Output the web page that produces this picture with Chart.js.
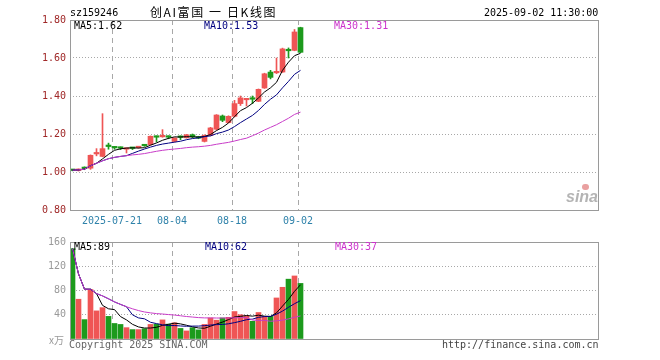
<!DOCTYPE html>
<html>
<head>
<meta charset="utf-8">
<script src="https://cdn.jsdelivr.net/npm/chart.js@4.4.1/dist/chart.umd.min.js"></script>
<style>
  body { margin: 0; background: #fff; }
  #wrap { position: relative; width: 660px; height: 360px; overflow: hidden; font-family: 'DejaVu Sans Mono', monospace; font-size: 10px; }
  canvas { position: absolute; left: 0; }
  .t { position: absolute; white-space: nowrap; line-height: 12px; }
</style>
</head>
<body>
<div id="wrap">
  <canvas id="priceChart" width="660" height="232" style="top:0"></canvas>
  <canvas id="volChart" width="660" height="128" style="top:232px"></canvas>

  <div class="t" style="left:70px;top:7px;color:#000">sz159246</div>
  <div class="t" style="left:150px;top:5px;font-family:'Noto Sans CJK SC';font-size:12px;line-height:14px;letter-spacing:1.6px;color:#000">创AI富国 一 日K线图</div>
  <div class="t" style="left:484px;top:7px;color:#000">2025-09-02 11:30:00</div>

  <div class="t" style="left:74px;top:20px;color:#000">MA5:1.62</div>
  <div class="t" style="left:204px;top:20px;color:#000080">MA10:1.53</div>
  <div class="t" style="left:334px;top:20px;color:#cc33cc">MA30:1.31</div>

  <div class="t" style="left:74px;top:241px;color:#000">MA5:89</div>
  <div class="t" style="left:205px;top:241px;color:#000080">MA10:62</div>
  <div class="t" style="left:335px;top:241px;color:#cc33cc">MA30:37</div>

  <div class="t" style="left:49px;top:334px;color:#999;font-family:'Noto Sans CJK SC';">x万</div>
  <div class="t" style="left:69px;top:339px;color:#666">Copyright 2025 SINA.COM</div>
  <div class="t" style="left:442px;top:339px;color:#444">http://finance.sina.com.cn</div>

  <div class="t" style="left:566px;top:188px;font-family:'Liberation Sans';font-style:italic;font-weight:bold;font-size:16px;line-height:18px;color:#b4b4b4">sina</div>
  <div style="position:absolute;left:582px;top:184px;width:7px;height:6px;border-radius:4px;background:#e9a0a0"></div>
</div>

<script>
// Trading days
const dates = ['07-10','07-11','07-14','07-15','07-16','07-17','07-18','07-21','07-22','07-23',
  '07-24','07-25','07-28','07-29','07-30','07-31','08-01','08-04','08-05','08-06',
  '08-07','08-08','08-11','08-12','08-13','08-14','08-15','08-18','08-19','08-20',
  '08-21','08-22','08-25','08-26','08-27','08-28','08-29','09-01','09-02'];
const tickDates = ['07-21', '08-04', '08-18', '09-02'];
const tickText = ['2025-07-21', '08-04', '08-18', '09-02'];

// Daily K data
const opens = [1.012,1.008,1.024,1.020,1.095,1.082,1.138,1.130,1.128,1.120,
  1.127,1.128,1.142,1.144,1.186,1.185,1.186,1.161,1.186,1.180,
  1.196,1.184,1.161,1.193,1.225,1.295,1.260,1.293,1.360,1.380,
  1.388,1.372,1.442,1.526,1.522,1.526,1.645,1.640,1.760];
const highs = [1.014,1.016,1.027,1.090,1.123,1.307,1.152,1.135,1.132,1.125,
  1.130,1.135,1.145,1.190,1.190,1.223,1.190,1.180,1.190,1.198,
  1.200,1.188,1.196,1.235,1.302,1.300,1.296,1.377,1.400,1.385,
  1.400,1.437,1.520,1.535,1.600,1.652,1.653,1.750,1.762];
const lows = [1.006,1.005,1.012,1.014,1.085,1.080,1.120,1.120,1.118,1.100,
  1.118,1.125,1.135,1.142,1.158,1.183,1.175,1.158,1.170,1.178,
  1.180,1.175,1.158,1.190,1.222,1.265,1.258,1.290,1.350,1.347,
  1.360,1.370,1.440,1.490,1.518,1.524,1.600,1.638,1.628];
const closes = [1.008,1.012,1.018,1.088,1.100,1.123,1.134,1.127,1.125,1.123,
  1.124,1.132,1.138,1.188,1.183,1.192,1.183,1.179,1.182,1.196,
  1.185,1.178,1.193,1.232,1.300,1.272,1.293,1.360,1.390,1.382,
  1.383,1.435,1.517,1.498,1.527,1.648,1.638,1.737,1.630];

// Price moving averages
const ma5 = [1.01,1.011,1.015,1.033,1.046,1.069,1.093,1.114,1.122,1.126,
  1.127,1.126,1.128,1.141,1.153,1.167,1.177,1.185,1.184,1.186,
  1.185,1.184,1.187,1.197,1.218,1.235,1.258,1.291,1.323,1.339,
  1.362,1.39,1.421,1.443,1.472,1.535,1.578,1.612,1.625];
const ma10 = [1.01,1.011,1.015,1.033,1.046,1.059,1.07,1.077,1.082,1.086,
  1.098,1.11,1.121,1.131,1.14,1.147,1.152,1.157,1.162,1.17,
  1.176,1.18,1.186,1.19,1.202,1.21,1.221,1.239,1.26,1.279,
  1.298,1.324,1.356,1.383,1.406,1.443,1.477,1.514,1.535];
const ma30 = [1.01,1.011,1.015,1.033,1.046,1.059,1.07,1.077,1.082,1.086,
  1.09,1.093,1.097,1.103,1.109,1.114,1.118,1.121,1.124,1.128,
  1.131,1.133,1.136,1.14,1.146,1.151,1.156,1.163,1.171,1.178,
  1.191,1.205,1.221,1.235,1.249,1.266,1.283,1.303,1.315];

// Volume (10k) and its moving averages
const volumes = [149,65.6,32,81.6,46.4,51.7,37.3,25.6,24,18.7,
  15.5,15.5,17,24,24.5,31.5,24.5,26.7,17.4,13.3,
  18.7,15,24,34.7,31,34.7,35.7,45.3,40,38.4,
  29.3,43.7,37.3,37.3,67.7,85.3,98.7,104,91.7];
const volMa5 = [149,107.3,82.2,82.1,74.9,55.5,49.8,48.5,37,31.5,
  24.2,19.9,18.1,18.1,19.3,22.5,24.3,26.2,24.9,22.7,
  20.1,18.2,17.7,21.1,24.7,27.9,32,36.3,37.3,38.8,
  37.7,39.3,37.7,37.2,43.1,54.3,65.3,78.6,89.5];
const volMa10 = [149,107.3,82.2,82.1,74.9,71.1,66.3,61.2,57.1,53.2,
  39.8,34.8,33.3,27.6,25.4,23.4,22.1,22.2,21.5,21,
  21.3,21.3,22,23,23.7,24,25.1,27,29.2,31.8,
  32.8,35.7,37,37.3,40.9,46,52.3,58.2,63.3];
const volMa30 = [149,107.3,82.2,82.1,74.9,71.1,66.3,61.2,57.1,53.2,
  49.8,46.9,44.6,43.1,41.9,41.2,40.3,39.5,38.3,37.1,
  36.2,35.3,34.8,34.8,34.6,34.6,34.7,35,35.2,35.3,
  31.3,30.6,30.8,29.3,30,31.1,33.2,35.8,38];

const RED = '#ef5555';
const GREEN = '#1c9a1c';
const colors = closes.map((c, i) => c >= opens[i] ? RED : GREEN);
const MONO = { family: "'DejaVu Sans Mono', monospace", size: 10 };

Chart.defaults.font.family = MONO.family;

// 88 slots of 6px across the plot, candle centres at .5 px
const X_MIN = -2.5 / 6;
const X_MAX = 88 - 2.5 / 6;

function xAxis(showLabels) {
    return {
        type: 'linear',
        min: X_MIN,
        max: X_MAX,
        offset: false,
        afterBuildTicks: s => {
            s.ticks = tickDates.map(d => ({ value: dates.indexOf(d) + X_MIN }));
        },
        afterFit: s => { s.height = showLabels ? 22 : 0; },
        grid: { color: '#a8a8a8', drawTicks: false, offset: false },
        border: { display: false, dash: [5, 4] },
        ticks: {
            display: showLabels,
            autoSkip: false,
            maxRotation: 0,
            padding: 5,
            color: '#2f82aa',
            font: MONO,
            callback: (v, i) => tickText[i]
        }
    };
}

const points = arr => arr.map((v, i) => ({ x: i, y: v }));

function maLine(arr, color, order) {
    return {
        type: 'line',
        data: points(arr),
        borderColor: color,
        borderWidth: 1,
        pointRadius: 0,
        tension: 0,
        order: order
    };
}

// Frame around the plot area
const framePlugin = {
    id: 'frame',
    afterDraw(chart) {
        const a = chart.chartArea;
        const ctx = chart.ctx;
        ctx.save();
        ctx.strokeStyle = '#9a9a9a';
        ctx.lineWidth = 1;
        ctx.strokeRect(a.left + 0.5, a.top + 0.5, a.right - a.left, a.bottom - a.top);
        ctx.restore();
    }
};

const priceChart = new Chart(document.getElementById('priceChart'), {
    type: 'bar',
    data: {
        datasets: [
            maLine(ma30, '#c83cc8', 0),
            maLine(ma10, '#000080', 1),
            maLine(ma5, '#000000', 2),
            {
                data: opens.map((o, i) => ({ x: i, y: [o, closes[i]] })),
                backgroundColor: colors,
                barThickness: 5,
                minBarLength: 1.5,
                grouped: false,
                order: 3
            },
            {
                data: lows.map((l, i) => ({ x: i, y: [l, highs[i]] })),
                backgroundColor: colors,
                barThickness: 1,
                grouped: false,
                order: 4
            }
        ]
    },
    options: {
        responsive: false,
        animation: false,
        events: [],
        layout: { padding: { top: 20, right: 62, bottom: 0, left: 0 } },
        plugins: { legend: { display: false }, tooltip: { enabled: false } },
        scales: {
            x: xAxis(true),
            y: {
                min: 0.8,
                max: 1.8,
                afterFit: s => { s.width = 70; },
                grid: { color: '#a8a8a8', drawTicks: false },
                border: { display: false, dash: [1, 2] },
                ticks: {
                    stepSize: 0.2,
                    padding: 4,
                    color: '#a02828',
                    font: MONO,
                    callback: v => v.toFixed(2)
                }
            }
        }
    },
    plugins: [framePlugin]
});

const volChart = new Chart(document.getElementById('volChart'), {
    type: 'bar',
    data: {
        datasets: [
            maLine(volMa30, '#c83cc8', 0),
            maLine(volMa10, '#000080', 1),
            maLine(volMa5, '#000000', 2),
            {
                data: points(volumes),
                backgroundColor: colors,
                barThickness: 5,
                grouped: false,
                order: 3
            }
        ]
    },
    options: {
        responsive: false,
        animation: false,
        events: [],
        layout: { padding: { top: 8, right: 62, bottom: 21, left: 0 } },
        plugins: { legend: { display: false }, tooltip: { enabled: false } },
        scales: {
            x: xAxis(false),
            y: {
                min: 0,
                max: 160,
                afterFit: s => { s.width = 70; },
                grid: { color: '#a8a8a8', drawTicks: false },
                border: { display: false, dash: [1, 2] },
                ticks: {
                    stepSize: 40,
                    padding: 4,
                    color: '#999999',
                    font: MONO,
                    callback: v => v === 0 ? '' : v
                }
            }
        }
    },
    plugins: [framePlugin]
});
</script>
</body>
</html>
